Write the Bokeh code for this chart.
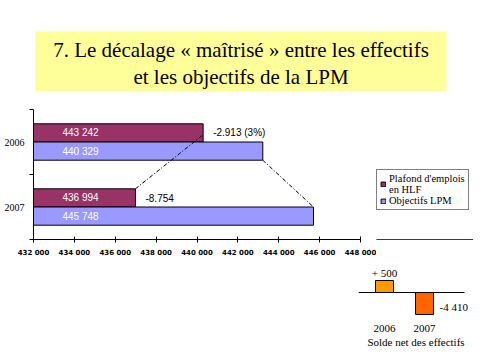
from bokeh.plotting import figure
from bokeh.layouts import column, row
from bokeh.models import (FixedTicker, Legend, LegendItem, ColumnDataSource, Spacer, Label)
from bokeh.core.properties import value
from bokeh.embed import file_html
from bokeh.resources import INLINE

# ---------------- data ----------------
title_lines = ["7. Le décalage « maîtrisé » entre les effectifs",
               "et les objectifs de la LPM"]

years = ["2006", "2007"]
plafond_bar = [440300, 436990]          # bar ends as drawn
objectifs_bar = [443220, 445700]
plafond_labels = ["443 242", "436 994"]
objectifs_labels = ["440 329", "445 748"]
ecart_labels = ["-2.913 (3%)", "-8.754"]
series_names = ["Plafond d'emplois\nen HLF", "Objectifs LPM"]
x_ticks = [432000, 434000, 436000, 438000, 440000, 442000, 444000, 446000, 448000]
x_tick_labels = ["432 000", "434 000", "436 000", "438 000", "440 000",
                 "442 000", "444 000", "446 000", "448 000"]

solde_years = ["2006", "2007"]
solde_bars = [1.0, -1.83]               # bar lengths as drawn (relative)
solde_labels = ["+ 500", "-4 410"]
solde_title = "Solde net des effectifs"

# ---------------- styles ----------------
C_PLAF = "#993366"
C_OBJ = "#9999FF"
C_S06 = "#FF9900"
C_S07 = "#FF6600"
SERIF = "Liberation Serif"
SANS = "Liberation Sans"

# ---------------- title ----------------
t = figure(width=473, height=102, x_range=(0, 473), y_range=(0, 102),
           output_backend="svg", toolbar_location=None, min_border=0)
t.axis.visible = False
t.grid.visible = False
t.outline_line_color = None
t.quad(left=[35], right=[446], bottom=[11], top=[71],
       fill_color="#FFFF99", line_color=None)
for ty, line in zip([53, 26], title_lines):
    t.add_layout(Label(x=240.5, y=ty, text=line, text_font=SERIF, text_font_size="21px",
                       text_align="center", text_baseline="middle", text_color="black"))

# ---------------- main chart ----------------
p = figure(width=376, height=162, x_range=(x_ticks[0], x_ticks[-1]), y_range=(0, 2),
           output_backend="svg", toolbar_location=None,
           min_border_left=33, min_border_right=16, min_border_top=7, min_border_bottom=25)
p.grid.visible = False
p.outline_line_color = None

centers = [1.5 - i for i in range(len(years))]
bh = 0.28
src = ColumnDataSource(dict(
    yp=[c + bh / 2 for c in centers],
    yo=[c - bh / 2 for c in centers],
    plaf=plafond_bar, obj=objectifs_bar,
    plaf_lab=plafond_labels, obj_lab=objectifs_labels, ecart=ecart_labels,
    left=[x_ticks[0]] * len(years),
))
p.hbar(y="yp", left="left", right="plaf", height=bh, source=src,
       fill_color=C_PLAF, line_color="black", line_width=1)
p.hbar(y="yo", left="left", right="obj", height=bh, source=src,
       fill_color=C_OBJ, line_color="black", line_width=1)

p.text(x="left", y="yp", text="plaf_lab", source=src, x_offset=29,
       text_font=value(SANS), text_font_size="10px", text_color="white",
       text_baseline="middle", text_align="left")
p.text(x="left", y="yo", text="obj_lab", source=src, x_offset=29,
       text_font=value(SANS), text_font_size="10px", text_color="white",
       text_baseline="middle", text_align="left")
p.text(x="plaf", y="yp", text="ecart", source=src, x_offset=10,
       text_font=value(SANS), text_font_size="10px", text_color="black",
       text_baseline="middle", text_align="left")

# connector lines
p.line(x=[plafond_bar[1], plafond_bar[0]],
       y=[centers[1] + bh, centers[0] + bh * 0.4],
       line_color="black", line_width=1, line_dash="4 2 1 2")
p.line(x=[objectifs_bar[0], objectifs_bar[1]],
       y=[centers[0] - bh, centers[1]],
       line_color="black", line_width=1, line_dash="4 2 1 2")

p.yaxis.ticker = FixedTicker(ticks=centers, minor_ticks=[0, 1, 2])
p.yaxis.major_label_overrides = {c: y for c, y in zip(centers, years)}
p.yaxis.major_tick_out = 0
p.yaxis.major_tick_in = 0
p.yaxis.minor_tick_out = 4
p.yaxis.minor_tick_in = 0
p.yaxis.major_label_standoff = 5
p.yaxis.major_label_text_font = SERIF
p.yaxis.major_label_text_font_size = "10px"
p.yaxis.major_label_text_color = "black"
p.yaxis.axis_line_color = "black"

p.xaxis.ticker = FixedTicker(ticks=x_ticks, minor_ticks=[])
p.xaxis.major_label_overrides = {tk: lb for tk, lb in zip(x_ticks, x_tick_labels)}
p.xaxis.major_tick_in = 3
p.xaxis.major_tick_out = 3
p.xaxis.minor_tick_out = 0
p.xaxis.minor_tick_in = 0
p.xaxis.major_label_standoff = 6
p.xaxis.major_label_text_font = "DejaVu Sans"
p.xaxis.major_label_text_font_size = "7px"
p.xaxis.major_label_text_font_style = "bold"
p.xaxis.major_label_text_color = "black"
p.xaxis.axis_line_color = "black"

# ---------------- legend panel ----------------
lf = figure(width=97, height=162, x_range=(0, 1), y_range=(0, 1),
            output_backend="svg", toolbar_location=None,
            min_border_left=0, min_border_right=0, min_border_top=7, min_border_bottom=25)
lf.axis.visible = False
lf.grid.visible = False
lf.outline_line_color = None
# proxy renderers kept outside the visible range, only used for the legend swatches
lr1 = lf.hbar(y=[-10], left=[0], right=[1], height=1, fill_color=C_PLAF, line_color="black")
lr2 = lf.hbar(y=[-10], left=[0], right=[1], height=1, fill_color=C_OBJ, line_color="black")
legend = Legend(items=[LegendItem(label=series_names[0], renderers=[lr1]),
                       LegendItem(label=series_names[1], renderers=[lr2])],
                location=(0, 29),
                border_line_color="black", border_line_width=1,
                label_text_font=SERIF, label_text_font_size="10.5px",
                label_text_color="black", label_text_line_height=0.9,
                glyph_width=6, glyph_height=6, label_standoff=3,
                padding=3, spacing=0, margin=0, label_height=10,
                background_fill_alpha=1)
lf.add_layout(legend, "center")

# ---------------- small chart ----------------
q = figure(width=123, height=89, x_range=(-0.65, 2.225), y_range=(-2.083, 1.917),
           output_backend="svg", toolbar_location=None,
           min_border_left=8, min_border_right=0, min_border_top=5, min_border_bottom=36)
q.grid.visible = False
q.outline_line_color = None
q.yaxis.visible = False
qs = ColumnDataSource(dict(x=list(range(len(solde_years))), top=solde_bars,
                           col=[C_S06, C_S07]))
q.vbar(x="x", top="top", bottom=0, width=0.45, source=qs,
       fill_color="col", line_color="black", line_width=1)
q.segment(x0=[-0.65], x1=[2.0], y0=[0], y1=[0], line_color="black", line_width=1)
q.add_layout(Label(x=0, y=solde_bars[0], text=solde_labels[0], y_offset=2,
                   text_font=SERIF, text_font_size="11px", text_color="black",
                   text_align="center", text_baseline="bottom"))
q.add_layout(Label(x=1.225, y=solde_bars[1] * 0.64, text=solde_labels[1], x_offset=6,
                   text_font=SERIF, text_font_size="11px", text_color="black",
                   text_align="left", text_baseline="middle"))
q.xaxis.ticker = FixedTicker(ticks=[0, 1], minor_ticks=[])
q.xaxis.major_label_overrides = {i: y for i, y in enumerate(solde_years)}
q.xaxis.axis_line_color = None
q.xaxis.major_tick_line_color = None
q.xaxis.minor_tick_line_color = None
q.xaxis.major_label_standoff = 1
q.xaxis.major_label_text_font = SERIF
q.xaxis.major_label_text_font_size = "11px"
q.xaxis.major_label_text_color = "black"
q.xaxis.axis_label = solde_title
q.xaxis.axis_label_text_font = SERIF
q.xaxis.axis_label_text_font_size = "11px"
q.xaxis.axis_label_text_font_style = "normal"
q.xaxis.axis_label_text_color = "black"
q.xaxis.axis_label_standoff = 1

layout = column(row(t), row(p, lf), row(Spacer(width=350, height=89), q))
open("out.html", "w").write(file_html(layout, INLINE))
